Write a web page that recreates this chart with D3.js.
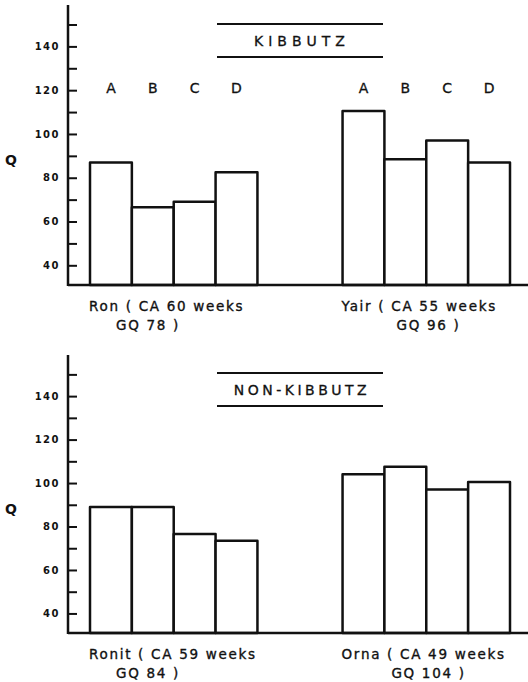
<!DOCTYPE html>
<html>
<head>
<meta charset="utf-8">
<script src="https://cdn.jsdelivr.net/npm/d3@7"></script>
<style>
  body { margin: 0; background: #fff; }
  svg text { font-family: "DejaVu Sans", sans-serif; fill: #111; }
</style>
</head>
<body>
<div id="chart"></div>
<script>
// conditions shown above each group of bars
var conditions = ["A", "B", "C", "D"];
var yTickValues = [40, 50, 60, 70, 80, 90, 100, 110, 120, 130, 140, 150];
var yTickLabels = [40, 60, 80, 100, 120, 140];

// kibbutz children
var kibbutzNames = ["Ron", "Yair"];
var kibbutzCA = [60, 55];
var kibbutzGQ = [78, 96];
var kibbutzQ = [
  [87, 66.5, 69, 82.5],
  [110.5, 88.5, 97, 87]
];

// non-kibbutz children
var nonKibbutzNames = ["Ronit", "Orna"];
var nonKibbutzCA = [59, 49];
var nonKibbutzGQ = [84, 104];
var nonKibbutzQ = [
  [89, 89, 76.5, 73.5],
  [104, 107.5, 97, 100.5]
];

var width = 528, height = 682,
    axisX = 68,
    ink = "#111";

var svg = d3.select("#chart")
  .append("svg")
    .attr("width", width)
    .attr("height", height);

function label(sel) {
  // hand-lettered look: slightly heavier than the regular face
  return sel
    .style("font-size", "13.5px")
    .style("letter-spacing", "1.7px")
    .attr("stroke", ink)
    .attr("stroke-width", 0.35);
}

function drawPanel(opts) {
  var g = svg.append("g");

  var y = d3.scaleLinear()
    .domain([31, 158])
    .range([opts.bottom, opts.top]);

  var groups = d3.scaleBand()
    .domain(opts.names)
    .range([90, 510])
    .paddingInner(0.337)
    .paddingOuter(0);

  var inner = d3.scaleBand()
    .domain(conditions)
    .range([0, groups.bandwidth()])
    .padding(0);

  // bars
  opts.names.forEach(function (name, i) {
    var bg = g.append("g")
      .attr("transform", "translate(" + groups(name) + ",0)");

    bg.selectAll("rect")
      .data(opts.values[i])
      .enter()
      .append("rect")
        .attr("x", function (d, j) { return inner(conditions[j]); })
        .attr("y", function (d) { return y(d); })
        .attr("width", inner.bandwidth())
        .attr("height", function (d) { return y(31) - y(d); })
        .attr("fill", "#fff")
        .attr("stroke", ink)
        .attr("stroke-width", 2.5)
        .attr("stroke-linejoin", "round");

    if (opts.showLetters) {
      bg.selectAll("text.cond")
        .data(conditions)
        .enter()
        .append("text")
          .classed("cond", true)
          .attr("x", function (c) { return inner(c) + inner.bandwidth() / 2; })
          .attr("y", 93)
          .attr("text-anchor", "middle")
          .style("font-size", "14px")
          .attr("stroke", ink)
          .attr("stroke-width", 0.3)
          .text(function (c) { return c; });
    }

    // child labels
    g.append("text")
      .attr("x", groups(name) - 1)
      .attr("y", opts.bottom + 26)
      .call(label)
      .text(name + " ( CA " + opts.ca[i] + " weeks");

    g.append("text")
      .attr("x", groups(name) + 58 + i * 28)
      .attr("y", opts.bottom + 45)
      .attr("text-anchor", "middle")
      .call(label)
      .text("GQ " + opts.gq[i] + " )");
  });

  // y axis
  var axis = d3.axisLeft(y)
    .tickValues(yTickValues)
    .tickSize(-9)
    .tickPadding(8)
    .tickFormat(function (d) { return yTickLabels.indexOf(d) >= 0 ? d : ""; });

  var ax = g.append("g")
    .attr("transform", "translate(" + axisX + ",0)")
    .call(axis);
  ax.select(".domain").remove();
  ax.selectAll(".tick line")
    .attr("stroke", ink)
    .attr("stroke-width", 2);
  ax.selectAll(".tick text")
    .style("font-family", "DejaVu Sans, sans-serif")
    .style("font-size", "10px")
    .style("font-weight", "bold")
    .style("letter-spacing", "1.5px")
    .attr("fill", ink);

  g.append("line")
    .attr("x1", axisX).attr("x2", axisX)
    .attr("y1", opts.top - 2).attr("y2", opts.bottom + 1)
    .attr("stroke", ink).attr("stroke-width", 2.5);

  g.append("line")
    .attr("x1", axisX).attr("x2", width)
    .attr("y1", opts.bottom).attr("y2", opts.bottom)
    .attr("stroke", ink).attr("stroke-width", 2.5);

  g.append("text")
    .attr("x", 11)
    .attr("y", y(88) + 5)
    .attr("text-anchor", "middle")
    .style("font-size", "14px")
    .style("font-weight", "bold")
    .text("Q");

  // title between two rules
  [opts.titleY - 17, opts.titleY + 16].forEach(function (ly) {
    g.append("line")
      .attr("x1", 217).attr("x2", 383)
      .attr("y1", ly).attr("y2", ly)
      .attr("stroke", ink).attr("stroke-width", 2);
  });
  g.append("text")
    .attr("x", 302)
    .attr("y", opts.titleY + 5)
    .attr("text-anchor", "middle")
    .style("font-size", "14px")
    .style("letter-spacing", opts.spacing)
    .attr("stroke", ink)
    .attr("stroke-width", 0.3)
    .text(opts.title);
}

drawPanel({
  names: kibbutzNames, ca: kibbutzCA, gq: kibbutzGQ, values: kibbutzQ,
  top: 7, bottom: 285, titleY: 41, title: "KIBBUTZ", spacing: "5px",
  showLetters: true
});

drawPanel({
  names: nonKibbutzNames, ca: nonKibbutzCA, gq: nonKibbutzGQ, values: nonKibbutzQ,
  top: 357, bottom: 633, titleY: 390, title: "NON-KIBBUTZ", spacing: "3.5px",
  showLetters: false
});
</script>
</body>
</html>
